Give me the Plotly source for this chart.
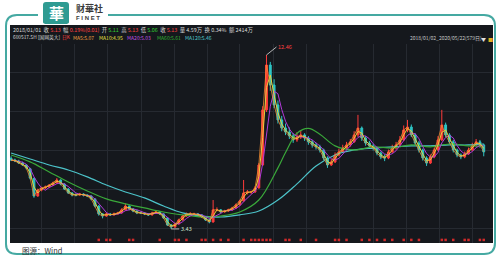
import plotly.graph_objects as go
import pandas as pd

# ---------------- data (weekly bars) ----------------
start_date = "2018-01-05"
opens = [7.10, 7.01, 6.96, 6.85, 6.75, 6.55, 6.05, 5.14, 5.45, 5.56,
         5.61, 5.71, 5.82, 5.97, 5.76, 5.50, 5.30, 5.19, 5.19, 5.24,
         5.19, 5.14, 4.99, 4.62, 4.21, 4.10, 4.21, 4.16, 4.21, 4.26,
         4.42, 4.62, 4.47, 4.36, 4.26, 4.26, 4.21, 4.16, 4.26, 4.31,
         4.21, 4.00, 3.64, 3.53, 3.69, 3.90, 4.10, 4.21, 4.21, 4.21,
         4.16, 4.05, 3.90, 3.79, 4.42, 4.42, 4.31, 4.36, 4.42, 4.52,
         4.68, 4.88, 5.30, 5.35, 5.35, 5.56, 6.75, 9.61, 11.94, 10.90,
         9.87, 9.09, 8.67, 8.46, 8.26, 8.05, 8.20, 8.31, 8.15, 7.95,
         7.79, 7.69, 7.53, 7.11, 6.75, 6.91, 7.27, 7.43, 7.63, 7.79,
         7.95, 8.31, 8.67, 8.15, 7.89, 7.74, 7.63, 7.37, 7.17, 7.11,
         7.43, 7.63, 7.79, 8.05, 8.57, 8.72, 8.31, 7.89, 7.53, 7.11,
         6.85, 7.17, 7.53, 8.05, 8.83, 8.31, 7.95, 7.53, 7.27, 7.17,
         7.32, 7.53, 7.79, 7.95, 7.79]
highs = [7.20, 7.08, 7.02, 6.92, 6.80, 6.60, 6.10, 5.52, 5.62, 5.68,
         5.76, 5.88, 6.07, 6.00, 5.80, 5.55, 5.33, 5.28, 5.30, 5.28,
         5.22, 5.17, 5.02, 4.66, 4.25, 4.28, 4.26, 4.28, 4.32, 4.50,
         4.75, 4.65, 4.50, 4.40, 4.33, 4.30, 4.25, 4.32, 4.38, 4.35,
         4.24, 4.03, 3.68, 3.75, 3.96, 4.15, 4.28, 4.30, 4.27, 4.25,
         4.19, 4.08, 3.95, 4.93, 4.55, 4.46, 4.42, 4.48, 4.58, 4.75,
         4.95, 5.97, 5.45, 5.42, 5.65, 6.85, 9.80, 12.46, 12.10, 11.20,
         10.10, 9.30, 8.90, 8.70, 8.40, 8.45, 8.55, 8.40, 8.25, 8.05,
         7.90, 7.80, 7.60, 7.20, 7.05, 7.40, 7.60, 7.80, 7.95, 8.10,
         8.50, 9.35, 8.75, 8.25, 8.00, 7.85, 7.70, 7.45, 7.30, 7.55,
         7.80, 7.95, 8.25, 8.80, 9.09, 8.85, 8.40, 8.00, 7.60, 7.20,
         7.30, 7.65, 8.25, 9.61, 8.95, 8.40, 8.05, 7.60, 7.35, 7.45,
         7.65, 7.90, 8.10, 8.05, 7.85]
lows = [6.95, 6.90, 6.80, 6.70, 6.52, 6.00, 5.05, 5.10, 5.38, 5.50,
        5.55, 5.66, 5.78, 5.70, 5.45, 5.25, 5.12, 5.12, 5.15, 5.12,
        5.08, 4.92, 4.55, 4.12, 3.98, 4.06, 4.10, 4.12, 4.18, 4.22,
        4.38, 4.40, 4.30, 4.20, 4.20, 4.15, 4.10, 4.12, 4.22, 4.16,
        3.95, 3.58, 3.43, 3.50, 3.66, 3.86, 4.06, 4.14, 4.15, 4.10,
        4.00, 3.85, 3.72, 3.76, 4.35, 4.25, 4.28, 4.32, 4.38, 4.48,
        4.64, 4.85, 5.22, 5.25, 5.30, 5.52, 6.70, 9.50, 10.60, 9.70,
        8.90, 8.50, 8.30, 8.10, 7.90, 7.95, 8.10, 8.00, 7.80, 7.65,
        7.55, 7.40, 7.00, 6.60, 6.70, 6.85, 7.20, 7.38, 7.55, 7.70,
        7.90, 8.20, 8.00, 7.75, 7.60, 7.50, 7.25, 7.05, 6.95, 7.05,
        7.38, 7.55, 7.72, 8.00, 8.45, 8.20, 7.75, 7.40, 6.98, 6.70,
        6.80, 7.10, 7.48, 8.00, 8.20, 7.85, 7.40, 7.15, 7.05, 7.10,
        7.28, 7.48, 7.70, 7.65, 7.20]
closes = [7.01, 6.96, 6.85, 6.75, 6.59, 6.07, 5.14, 5.45, 5.56, 5.61,
          5.71, 5.82, 5.97, 5.76, 5.50, 5.30, 5.19, 5.19, 5.24, 5.19,
          5.14, 4.99, 4.62, 4.21, 4.10, 4.21, 4.16, 4.21, 4.26, 4.42,
          4.62, 4.47, 4.36, 4.26, 4.26, 4.21, 4.16, 4.26, 4.31, 4.21,
          4.00, 3.64, 3.53, 3.69, 3.90, 4.10, 4.21, 4.21, 4.21, 4.16,
          4.05, 3.90, 3.79, 4.42, 4.42, 4.31, 4.36, 4.42, 4.52, 4.68,
          4.88, 5.30, 5.35, 5.35, 5.56, 6.75, 9.61, 11.94, 10.90, 9.87,
          9.09, 8.67, 8.46, 8.26, 8.05, 8.20, 8.31, 8.15, 7.95, 7.79,
          7.69, 7.53, 7.11, 6.75, 6.91, 7.27, 7.43, 7.63, 7.79, 7.95,
          8.31, 8.67, 8.15, 7.89, 7.74, 7.63, 7.37, 7.17, 7.11, 7.43,
          7.63, 7.79, 8.05, 8.57, 8.72, 8.31, 7.89, 7.53, 7.11, 6.85,
          7.17, 7.53, 8.05, 8.83, 8.31, 7.95, 7.53, 7.27, 7.17, 7.32,
          7.53, 7.79, 7.95, 7.79, 7.43]

# long moving averages (week index, value)
ma60_weeks = [0, 5, 10, 15, 20, 25, 30, 35, 40, 45, 50, 55, 60, 65, 70, 72,
              75, 78, 81, 85, 90, 95, 100, 105, 110, 115, 120, 124]
ma60_vals = [7.27, 6.91, 6.39, 5.87, 5.40, 4.99, 4.73, 4.52, 4.31, 4.16,
             4.05, 4.10, 4.31, 4.93, 6.60, 7.40, 8.40, 8.65, 8.35, 7.74,
             7.53, 7.69, 7.63, 7.79, 7.69, 7.84, 7.74, 7.74]
ma120_weeks = [0, 5, 10, 15, 20, 25, 30, 35, 40, 45, 50, 55, 60, 65, 70,
               75, 80, 85, 90, 95, 100, 105, 110, 115, 120, 124]
ma120_vals = [7.37, 7.06, 6.75, 6.49, 6.13, 5.71, 5.35, 5.04, 4.62, 4.26,
              4.10, 4.05, 4.16, 4.36, 4.93, 5.77, 6.70, 7.27, 7.53, 7.63,
              7.69, 7.74, 7.74, 7.79, 7.79, 7.84]

# info-marker weeks along the bottom
event_weeks = [23, 25, 26, 31, 32, 39, 43, 44, 46, 50, 51, 53, 55, 57, 61,
               63, 64, 65, 66, 67, 68, 72, 73, 76, 80, 85, 86, 88, 92, 94,
               96, 98, 100, 103, 105, 107, 113, 114, 116, 119, 120, 123, 124]

high_label = "12.46"
low_label = "3.43"
peak_week = 67
low_week = 42

# ---------------- derived ----------------
dates = pd.date_range(start_date, periods=len(closes), freq="7D")
cs = pd.Series(closes)
ma5 = cs
ma10 = cs.rolling(2, min_periods=1).mean()
ma20 = cs.rolling(4, min_periods=1).mean()
ma60_dates = [dates[i] for i in ma60_weeks]
ma120_dates = [dates[i] for i in ma120_weeks]
event_dates = [dates[i] for i in event_weeks]

# ---------------- layout helpers ----------------
W, H = 500, 259
ML, MR, MT, MB = 10, 7, 44, 16
PW, PH = W - ML - MR, H - MT - MB


def X(px):
    return (px - ML) / PW


def Y(py):
    return (H - MB - py) / PH


def P(px, py):
    return f"{X(px):.5f},{Y(py):.5f}"


BG = "#15181d"
GRID = "#262a31"
CJK = "Noto Sans CJK SC"

fig = go.Figure()

fig.add_trace(go.Candlestick(
    x=dates, open=opens, high=highs, low=lows, close=closes,
    increasing=dict(line=dict(color="#ff3b3b", width=1), fillcolor="#ff3b3b"),
    decreasing=dict(line=dict(color="#2ec4c4", width=1), fillcolor="#2ec4c4"),
    whiskerwidth=0, showlegend=False, name="K"))

fig.add_trace(go.Scatter(x=ma120_dates, y=ma120_vals, mode="lines", name="MA120",
                         line=dict(color="#4cc3c9", width=1.2, shape="spline")))
fig.add_trace(go.Scatter(x=ma60_dates, y=ma60_vals, mode="lines", name="MA60",
                         line=dict(color="#3aa83a", width=1.2, shape="spline")))
fig.add_trace(go.Scatter(x=dates, y=ma20, mode="lines", name="MA20",
                         line=dict(color="#b03ad8", width=1)))
fig.add_trace(go.Scatter(x=dates, y=ma10, mode="lines", name="MA10",
                         line=dict(color="#e6d23a", width=1)))
fig.add_trace(go.Scatter(x=dates, y=ma5, mode="lines", name="MA5",
                         line=dict(color="#f08a30", width=0.8)))
fig.add_trace(go.Scatter(x=event_dates, y=[2.86] * len(event_dates), mode="markers",
                         name="events", marker=dict(color="#d02a2a", size=2.5, symbol="square")))

shapes = []
# dark panel incl. header
shapes.append(dict(type="rect", xref="paper", yref="paper", layer="below",
                   x0=X(10), x1=X(493), y0=Y(243), y1=Y(25),
                   fillcolor=BG, line=dict(width=0)))
# frame
frame = (f"M {P(38,15)} L {P(17,15)} Q {P(6,15)} {P(6,26)} L {P(6,244)} "
         f"Q {P(6,254)} {P(17,254)} L {P(484,254)} Q {P(495,254)} {P(495,243)} "
         f"L {P(495,26)} Q {P(495,15)} {P(484,15)} L {P(108,15)}")
shapes.append(dict(type="path", xref="paper", yref="paper", path=frame,
                   line=dict(color="#45a9a2", width=2)))
# logo block
logo = (f"M {P(46,2)} L {P(66,2)} Q {P(69,2)} {P(69,5)} L {P(69,22)} Q {P(69,24)} {P(65,24)} "
        f"L {P(47,24)} Q {P(43,24)} {P(43,22)} L {P(43,5)} Q {P(43,2)} {P(46,2)} Z")
shapes.append(dict(type="path", xref="paper", yref="paper", path=logo,
                   fillcolor="#2f9b92", line=dict(width=0)))

annotations = []


def ann(text, px, py, size, color, xanchor="left", family=CJK):
    annotations.append(dict(text=text, x=X(px), y=Y(py), xref="paper", yref="paper",
                            xanchor=xanchor, yanchor="middle", showarrow=False,
                            font=dict(size=size, color=color, family=family)))


ann("<b>華</b>", 56, 12.5, 15, "#ffffff", xanchor="center")
ann("<b>财華社</b>", 74, 8, 9, "#3a3a3a")
ann("<b>F I N E T</b>", 74, 18, 6, "#3a3a3a", family="Liberation Sans")

R, G_, Wt = "#ff4040", "#33cc33", "#d8d8d8"
row1 = (f"<span style='color:{Wt}'>2018/01/01  收 </span><span style='color:{R}'>5.13</span>"
        f"<span style='color:{Wt}'>  幅 </span><span style='color:{R}'>0.19%(0.01)</span>"
        f"<span style='color:{Wt}'>  开 </span><span style='color:{G_}'>5.11</span>"
        f"<span style='color:{Wt}'>  高 </span><span style='color:{R}'>5.13</span>"
        f"<span style='color:{Wt}'>  低 </span><span style='color:{G_}'>5.06</span>"
        f"<span style='color:{Wt}'>  收 </span><span style='color:{R}'>5.13</span>"
        f"<span style='color:{Wt}'>  量 4.59万  换 0.34%  额 2414万</span>")
ann(row1, 11, 29.8, 5.4, Wt)
ann("600517.SH [国网英大]", 11, 37.5, 4.8, Wt)
ann("日K", 60, 37.5, 4.8, R)
ann("MA5:5.07", 71, 37.5, 5, "#f0a040")
ann("MA10:4.95", 97, 37.5, 5, "#e6e040")
ann("MA20:5.03", 125, 37.5, 5, "#c050e0")
ann("MA60:5.61", 155, 37.5, 5, "#30b030")
ann("MA120:5.46", 183, 37.5, 5, "#50c8d0")
ann("2018/01/02_2020/05/22(579日)", 408, 38, 5, "#c8c8c8")
ann("▼", 479, 38, 5, "#e0e0e0")
ann("■", 486, 38, 5, "#e0b020")
ann("图源：Wind", 20, 250, 7.5, "#333333")

annotations.append(dict(x=dates[peak_week], y=max(highs), xref="x", yref="y",
                        text=high_label, showarrow=True, arrowhead=0, arrowwidth=0.8,
                        arrowcolor="#dddddd", ax=10, ay=-8, xanchor="left",
                        font=dict(size=5.5, color=R, family=CJK)))
annotations.append(dict(x=dates[low_week], y=min(lows), xref="x", yref="y",
                        text=low_label, showarrow=True, arrowhead=0, arrowwidth=0.8,
                        arrowcolor="#dddddd", ax=8, ay=0, xanchor="left",
                        font=dict(size=5.5, color="#d0e8d0", family=CJK)))

fig.update_layout(
    width=W, height=H, autosize=False,
    margin=dict(l=ML, r=MR, t=MT, b=MB, pad=0),
    paper_bgcolor="#ffffff", plot_bgcolor=BG,
    showlegend=False, shapes=shapes, annotations=annotations,
    xaxis=dict(type="date", range=["2018-01-03", "2020-06-08"], rangeslider=dict(visible=False),
               showticklabels=False, showgrid=True, gridcolor=GRID, gridwidth=1,
               tick0="2018-01-01", dtick="M2", zeroline=False, showline=False, ticks=""),
    yaxis=dict(range=[2.70, 13.03], showticklabels=False, showgrid=True, gridcolor=GRID,
               gridwidth=1, tick0=11.53, dtick=2.02, zeroline=False, showline=False, ticks=""),
)

fig.write_html("out.html")
